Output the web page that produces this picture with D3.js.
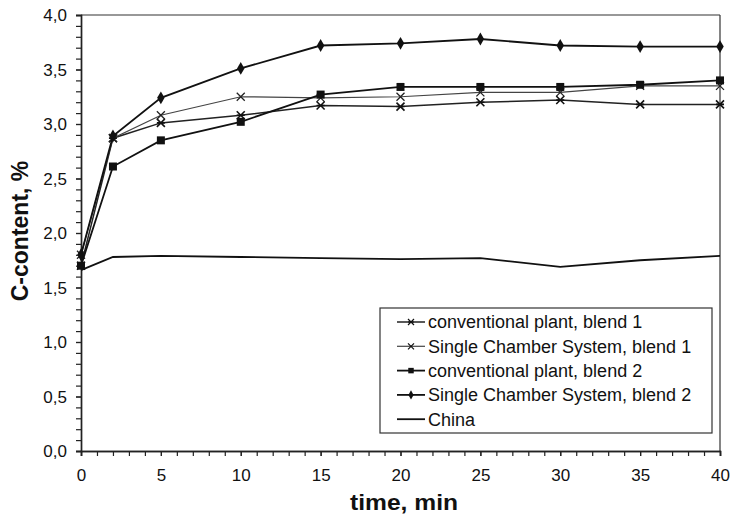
<!DOCTYPE html>
<html>
<head>
<meta charset="utf-8">
<script src="https://cdn.jsdelivr.net/npm/d3@7"></script>
<style>
  body { margin: 0; background: #fff; }
  text { font-family: "Liberation Sans", Arial, sans-serif; fill: #111; }
</style>
</head>
<body>
<div id="chart"></div>
<script>
// time points (min) and C-content (%)
const times = [0, 2, 5, 10, 15, 20, 25, 30, 35, 40];
const convBlend1 = [1.70, 2.87, 3.01, 3.08, 3.17, 3.16, 3.20, 3.22, 3.18, 3.18];
const scsBlend1  = [1.80, 2.87, 3.08, 3.25, 3.24, 3.25, 3.29, 3.29, 3.35, 3.35];
const convBlend2 = [1.70, 2.61, 2.85, 3.02, 3.27, 3.34, 3.34, 3.34, 3.36, 3.40];
const scsBlend2  = [1.80, 2.89, 3.24, 3.51, 3.72, 3.74, 3.78, 3.72, 3.71, 3.71];
const china      = [1.66, 1.78, 1.79, 1.78, 1.77, 1.76, 1.77, 1.69, 1.75, 1.79];

const seriesNames = ["conventional plant, blend 1", "Single Chamber System, blend 1",
  "conventional plant, blend 2", "Single Chamber System, blend 2", "China"];
const xTicks = [0, 5, 10, 15, 20, 25, 30, 35, 40];
const yTicks = [0, 0.5, 1, 1.5, 2, 2.5, 3, 3.5, 4];

const W = 731, H = 519;
const margin = { top: 15, right: 11, bottom: 68, left: 81 };
const width = W - margin.left - margin.right,
      height = H - margin.top - margin.bottom;

const svg = d3.select("#chart").append("svg").attr("width", W).attr("height", H);
const g = svg.append("g").attr("transform", `translate(${margin.left},${margin.top})`);

const x = d3.scaleLinear().domain([0, 40]).range([0, width]);
const y = d3.scaleLinear().domain([0, 4]).range([height, 0]);
const fmt = d => d3.format(".1f")(d).replace(".", ",");

// marker shapes
const mkX = (ctx, r) => { ctx.moveTo(-r, -r); ctx.lineTo(r, r); ctx.moveTo(r, -r); ctx.lineTo(-r, r); };
const markers = {
  ast: (sel, s) => sel.append("path").attr("d", () => { const p = d3.path(); mkX(p, 4); p.moveTo(-4, 0); p.lineTo(4, 0); return p; })
        .attr("fill", "none").attr("stroke", "#111").attr("stroke-width", 1.6),
  cross: (sel, s) => sel.append("path").attr("d", () => { const p = d3.path(); mkX(p, 4); return p; })
        .attr("fill", "none").attr("stroke", "#222").attr("stroke-width", 1.3),
  square: (sel, s) => sel.append("path").attr("d", d3.symbol(d3.symbolSquare, s || 64)).attr("fill", "#111"),
  diamond: (sel, s) => sel.append("path").attr("d", d3.symbol(d3.symbolDiamond, s || 48)).attr("fill", "#111"),
  none: () => {}
};

const series = [
  { name: seriesNames[0], values: convBlend1, mark: "ast", w: 1.5, c: "#222" },
  { name: seriesNames[1], values: scsBlend1, mark: "cross", w: 1.2, c: "#444" },
  { name: seriesNames[2], values: convBlend2, mark: "square", w: 1.8, c: "#111" },
  { name: seriesNames[3], values: scsBlend2, mark: "diamond", w: 1.8, c: "#111" },
  { name: seriesNames[4], values: china, mark: "none", w: 1.8, c: "#111" }
];

// frame top / right
g.append("line").attr("x1", 0).attr("x2", width).attr("y1", 0).attr("y2", 0).attr("stroke", "#333").attr("stroke-width", 1.2);
g.append("line").attr("x1", width).attr("x2", width).attr("y1", 0).attr("y2", height).attr("stroke", "#333").attr("stroke-width", 1.2);

// axes with minor ticks
const xMinor = g.append("g").attr("transform", `translate(0,${height})`)
  .call(d3.axisBottom(x).tickValues(d3.range(0, 41, 1)).tickSize(5).tickFormat(""));
const yMinor = g.append("g").call(d3.axisLeft(y).tickValues(d3.range(0, 41).map(d => d / 10)).tickSize(5).tickFormat(""));
const xAxis = g.append("g").attr("transform", `translate(0,${height})`)
  .call(d3.axisBottom(x).tickValues(xTicks).tickSize(5).tickPadding(13).tickFormat(d3.format("d")));
const yAxis = g.append("g").call(d3.axisLeft(y).tickValues(yTicks).tickSize(5).tickPadding(9).tickFormat(fmt));
[xMinor, yMinor, xAxis, yAxis].forEach(a => {
  a.select(".domain").attr("stroke", "#222").attr("stroke-width", 1.4);
  a.selectAll(".tick line").attr("stroke", "#222").attr("stroke-width", 1.2);
  a.selectAll("text").style("font-size", "17px").attr("fill", "#111");
});
yAxis.selectAll("text").attr("dy", "0.35em");

// lines and markers
const line = d3.line().x((d, i) => x(times[i])).y(d => y(d));
series.forEach(s => {
  g.append("path").datum(s.values).attr("fill", "none").attr("stroke", s.c)
    .attr("stroke-width", s.w).attr("d", line);
  s.values.forEach((v, i) => {
    const m = g.append("g").attr("transform", `translate(${x(times[i])},${y(v)})`);
    markers[s.mark](m);
  });
});

// legend
const lg = g.append("g").attr("transform", `translate(${380 - margin.left},${308 - margin.top})`);
lg.append("rect").attr("width", 332).attr("height", 125).attr("fill", "#fff").attr("stroke", "#333").attr("stroke-width", 1.2);
series.forEach((s, i) => {
  const row = lg.append("g").attr("transform", `translate(0,${14 + i * 24.3})`);
  row.append("line").attr("x1", 17).attr("x2", 45).attr("stroke", s.c).attr("stroke-width", s.w);
  const m = row.append("g").attr("transform", "translate(31,0)");
  if (s.mark === "square") markers.square(m, 30);
  else if (s.mark === "diamond") markers.diamond(m, 24);
  else if (s.mark !== "none") m.append("path").attr("d", () => { const p = d3.path(); mkX(p, 3); if (s.mark === "ast") { p.moveTo(-3, 0); p.lineTo(3, 0); } return p; })
    .attr("fill", "none").attr("stroke", "#111").attr("stroke-width", 1.2);
  row.append("text").attr("x", 48).attr("dy", "0.35em").style("font-size", "18px").text(s.name);
});

// axis titles
svg.append("text").attr("x", 404).attr("y", 510).attr("text-anchor", "middle")
  .attr("textLength", 108).attr("lengthAdjust", "spacingAndGlyphs")
  .style("font-size", "22px").style("font-weight", "bold").text("time, min");
svg.append("text").attr("transform", "translate(28,231) rotate(-90)").attr("text-anchor", "middle")
  .style("font-size", "23px").style("font-weight", "bold").text("C-content, %");
</script>
</body>
</html>
